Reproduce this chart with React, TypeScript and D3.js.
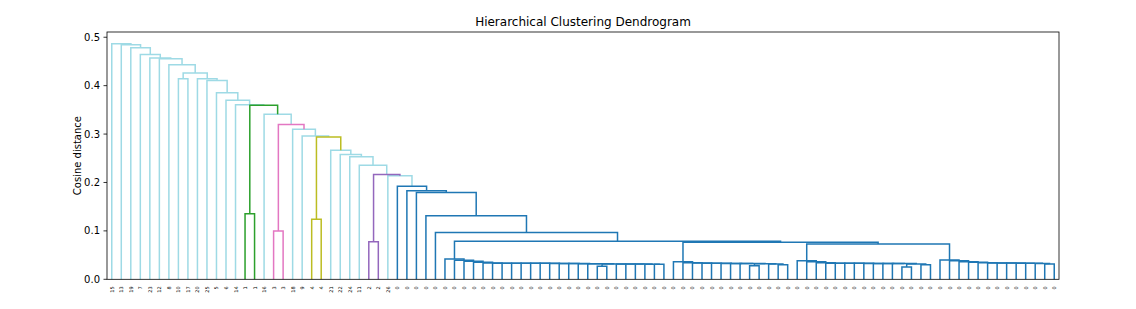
import React from "react";
import * as d3 from "d3";

// leaf labels in dendrogram order (left to right)
const leafLabels = [
  "15", "13", "19", "7", "23", "12", "8", "10", "17", "20",
  "25", "5", "6", "14", "1", "1", "16", "3", "3", "18",
  "9", "4", "4", "21", "22", "24", "11", "2", "2", "26",
  "0", "0", "0", "0", "0", "0", "0", "0", "0", "0",
  "0", "0", "0", "0", "0", "0", "0", "0", "0", "0",
  "0", "0", "0", "0", "0", "0", "0", "0", "0", "0",
  "0", "0", "0", "0", "0", "0", "0", "0", "0", "0",
  "0", "0", "0", "0", "0", "0", "0", "0", "0", "0",
  "0", "0", "0", "0", "0", "0", "0", "0", "0", "0",
  "0", "0", "0", "0", "0", "0", "0", "0", "0", "0",
];

// linkage rows: [left, right, distance, cluster]
// ids < 100 are leaf positions, id 100 + k is row k
const merges: [number, number, number, string][] = [
  // block of zeros 35..58
  [57, 58, 0.0310, "E"],
  [56, 100, 0.0313, "E"],
  [55, 101, 0.0314, "E"],
  [54, 102, 0.0315, "E"],
  [53, 103, 0.0316, "E"],
  [51, 52, 0.0270, "E"],
  [105, 104, 0.0318, "E"],
  [50, 106, 0.0321, "E"],
  [49, 107, 0.0323, "E"],
  [48, 108, 0.0325, "E"],
  [47, 109, 0.0326, "E"],
  [46, 110, 0.0328, "E"],
  [45, 111, 0.0329, "E"],
  [44, 112, 0.0330, "E"],
  [43, 113, 0.0331, "E"],
  [42, 114, 0.0332, "E"],
  [41, 115, 0.0333, "E"],
  [40, 116, 0.0334, "E"],
  [39, 117, 0.0337, "E"],
  [38, 118, 0.0351, "E"],
  [37, 119, 0.0371, "E"],
  [36, 120, 0.0395, "E"],
  [35, 121, 0.0419, "E"], // 122
  // block 59..71
  [70, 71, 0.0302, "E"],
  [69, 123, 0.0316, "E"],
  [67, 68, 0.0282, "E"],
  [125, 124, 0.0320, "E"],
  [66, 126, 0.0325, "E"],
  [65, 127, 0.0327, "E"],
  [64, 128, 0.0328, "E"],
  [63, 129, 0.0329, "E"],
  [62, 130, 0.0331, "E"],
  [61, 131, 0.0336, "E"],
  [60, 132, 0.0343, "E"],
  [59, 133, 0.0364, "E"], // 134
  // block 72..86
  [85, 86, 0.0302, "E"],
  [83, 84, 0.0254, "E"],
  [136, 135, 0.0316, "E"],
  [82, 137, 0.0325, "E"],
  [81, 138, 0.0326, "E"],
  [80, 139, 0.0327, "E"],
  [79, 140, 0.0328, "E"],
  [78, 141, 0.0329, "E"],
  [77, 142, 0.0330, "E"],
  [76, 143, 0.0331, "E"],
  [75, 144, 0.0333, "E"],
  [74, 145, 0.0343, "E"],
  [73, 146, 0.0364, "E"],
  [72, 147, 0.0384, "E"], // 148
  // block 87..99
  [98, 99, 0.0316, "E"],
  [97, 149, 0.0328, "E"],
  [96, 150, 0.0330, "E"],
  [95, 151, 0.0333, "E"],
  [94, 152, 0.0335, "E"],
  [93, 153, 0.0337, "E"],
  [92, 154, 0.0339, "E"],
  [91, 155, 0.0342, "E"],
  [90, 156, 0.0350, "E"],
  [89, 157, 0.0364, "E"],
  [88, 158, 0.0384, "E"],
  [87, 159, 0.0398, "E"], // 160
  // joining the zero blocks
  [148, 160, 0.0728, "E"],
  [134, 161, 0.0763, "E"],
  [122, 162, 0.0785, "E"],
  [34, 163, 0.0968, "E"],
  [33, 164, 0.1312, "E"],
  [32, 165, 0.1793, "E"],
  [31, 166, 0.1827, "E"],
  [30, 167, 0.1924, "E"], // 168
  [29, 168, 0.2137, "top"],
  [27, 28, 0.0776, "D"],
  [170, 169, 0.2165, "D"],
  [26, 171, 0.2357, "top"],
  [25, 172, 0.2530, "top"],
  [24, 173, 0.2577, "top"],
  [23, 174, 0.2666, "top"],
  [21, 22, 0.1240, "C"],
  [176, 175, 0.2940, "C"],
  [20, 177, 0.2960, "top"],
  [19, 178, 0.3100, "top"],
  [17, 18, 0.1000, "B"],
  [180, 179, 0.3196, "B"],
  [16, 181, 0.3410, "top"],
  [14, 15, 0.1353, "A"],
  [183, 182, 0.3594, "A"],
  [13, 184, 0.3608, "top"],
  [12, 185, 0.3697, "top"],
  [11, 186, 0.3855, "top"],
  [10, 187, 0.4109, "top"],
  [9, 188, 0.4145, "top"],
  [7, 8, 0.4140, "top"],
  [190, 189, 0.4260, "top"],
  [6, 191, 0.4432, "top"],
  [5, 192, 0.4556, "top"],
  [4, 193, 0.4570, "top"],
  [3, 194, 0.4645, "top"],
  [2, 195, 0.4783, "top"],
  [1, 196, 0.4845, "top"],
  [0, 197, 0.4865, "top"],
];

const yTicks = [0, 0.1, 0.2, 0.3, 0.4, 0.5];

const clusterColors: Record<string, string> = {
  top: "#9edae5",
  A: "#2ca02c",
  B: "#e377c2",
  C: "#bcbd22",
  D: "#9467bd",
  E: "#1f77b4",
};
// drawing order (matplotlib adds one collection per colour)
const colorOrder = ["top", "A", "B", "C", "D", "E"];

const width = 1136, height = 309;
const plotLeft = 107, plotRight = 1059, plotTop = 32, plotBottom = 279.3;
const font = "'DejaVu Sans', sans-serif";

const App = () => {
  const n = leafLabels.length;
  const x = d3.scaleLinear().domain([0, n * 10]).range([plotLeft, plotRight]);
  const maxD = d3.max(merges, (m) => m[2]) as number;
  const y = d3.scaleLinear().domain([0, maxD * 1.05]).range([plotBottom, plotTop]);

  // x of every cluster = middle of its two children
  const xs: number[] = [];
  const nodeX = (id: number) => (id < n ? id * 10 + 5 : xs[id - n]);
  const nodeH = (id: number) => (id < n ? 0 : merges[id - n][2]);
  merges.forEach(([a, b]) => xs.push((nodeX(a) + nodeX(b)) / 2));

  const links = merges.map(([a, b, d, c], i) => {
    const p = d3.path();
    p.moveTo(x(nodeX(a)), y(nodeH(a)));
    p.lineTo(x(nodeX(a)), y(d));
    p.lineTo(x(nodeX(b)), y(d));
    p.lineTo(x(nodeX(b)), y(nodeH(b)));
    return { key: i, d: p.toString(), c };
  });
  const sorted = colorOrder.flatMap((c) => links.filter((l) => l.c === c));

  return (
    <svg width={width} height={height} style={{ position: "absolute", left: 0, top: 0, background: "#fff" }}>
      <text x={(plotLeft + plotRight) / 2} y={26} textAnchor="middle" fontSize={12} fontFamily={font}>
        Hierarchical Clustering Dendrogram
      </text>
      <g>
        {sorted.map((l) => (
          <path key={l.key} d={l.d} fill="none" stroke={clusterColors[l.c]} strokeWidth={1.5} />
        ))}
      </g>
      <rect x={plotLeft} y={plotTop} width={plotRight - plotLeft} height={plotBottom - plotTop}
        fill="none" stroke="#000" strokeWidth={0.8} />
      {yTicks.map((t) => (
        <g key={t} transform={`translate(${plotLeft},${y(t)})`}>
          <line x1={-3.5} x2={0} stroke="#000" strokeWidth={0.8} />
          <text x={-7} dy="0.35em" textAnchor="end" fontSize={10} fontFamily={font} fill="#000">
            {t.toFixed(1)}
          </text>
        </g>
      ))}
      <text transform={`translate(77,${(plotTop + plotBottom) / 2}) rotate(-90)`} textAnchor="middle"
        dominantBaseline="central" fontSize={10} fontFamily={font}>
        Cosine distance
      </text>
      {leafLabels.map((lab, i) => (
        <text key={i} transform={`translate(${x(i * 10 + 5)},${plotBottom + 7}) rotate(-90)`}
          textAnchor="end" dominantBaseline="central" fontSize={5} fontFamily={font} fill="#000">
          {lab}
        </text>
      ))}
    </svg>
  );
};

export default App;
